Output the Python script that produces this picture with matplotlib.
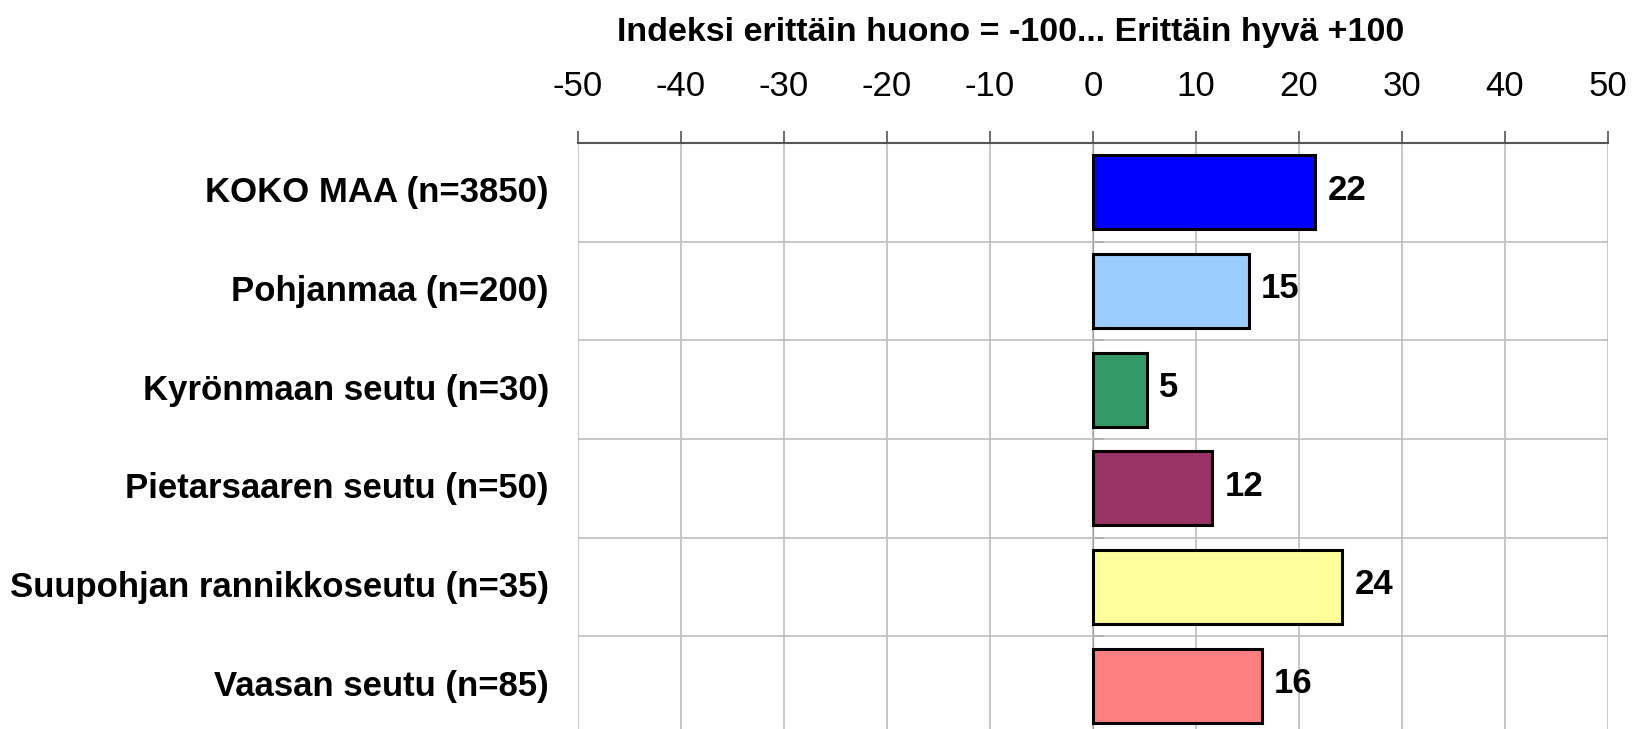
import numpy as np
import matplotlib as mpl
mpl.use('agg')
from matplotlib import pyplot as plt
from matplotlib.transforms import ScaledTranslation

plt.rcParams['font.family'] = ['Liberation Sans', 'DejaVu Sans']
plt.rcParams['axes.unicode_minus'] = False

categories = ['KOKO MAA (n=3850)', 'Pohjanmaa (n=200)', 'Kyrönmaan seutu (n=30)',
              'Pietarsaaren seutu (n=50)', 'Suupohjan rannikkoseutu (n=35)', 'Vaasan seutu (n=85)']
values = [21.6, 15.1, 5.2, 11.6, 24.2, 16.4]
colors = ['#0000FF', '#99CCFF', '#339966', '#993366', '#FFFF99', '#FF8080']
xticks = list(range(-50, 51, 10))
title = 'Indeksi erittäin huono = -100... Erittäin hyvä +100'

W, H = 1636, 729
fig = plt.figure(figsize=(W / 100, H / 100), dpi=100)
left, right, top, bottom = 578, 1608, 143, 735
ax = fig.add_axes([left / W, 1 - bottom / H, (right - left) / W, (bottom - top) / H])

y = np.arange(len(categories))
ax.barh(y, values, height=0.75, color=colors, edgecolor='black', linewidth=2.2, zorder=3)
for yi, v in zip(y, values):
    ax.annotate('%d' % round(v), (v, yi), xytext=(12, 2), textcoords='offset pixels',
                ha='left', va='center', fontsize=25, fontweight='bold', zorder=4)

ax.set_xlim(-50, 50)
ax.set_ylim(len(categories) - 0.5, -0.5)
ax.xaxis.tick_top()
ax.set_xticks(xticks)
ax.tick_params(axis='x', labelsize=25, length=8.6, width=1.2, color='#555555', pad=20)
ax.set_yticks(y, categories)
ax.tick_params(axis='y', which='major', length=0, pad=21, labelsize=25)
up = ScaledTranslation(0, 3 / 100, fig.dpi_scale_trans)
for lab in ax.get_yticklabels():
    lab.set_fontweight('bold')
    lab.set_transform(lab.get_transform() + up)

bounds = np.arange(-0.5, len(categories), 1.0)
ax.set_yticks(bounds, minor=True)
ax.tick_params(axis='y', which='minor', length=0)
ax.grid(True, axis='x', color='#BEBEBE', linewidth=1.2, zorder=0)
ax.grid(True, axis='y', which='minor', color='#BEBEBE', linewidth=1.2, zorder=0)

for s in ['left', 'right', 'bottom']:
    ax.spines[s].set_visible(False)
ax.spines['top'].set_color('#555555')
ax.spines['top'].set_linewidth(1.5)

# zero axis with category boundary ticks
sec = ax.secondary_yaxis(0.5)
sec.set_yticks(bounds, [''] * len(bounds))
sec.tick_params(axis='y', length=8, width=1.2, color='#555555')
sec.spines['left'].set_color('black')
sec.spines['left'].set_linewidth(1.5)
sec.spines['left'].set_zorder(5)

fig.text(1011 / W, 1 - 32 / H, title, ha='center', va='center', fontsize=24.5, fontweight='bold')

fig.savefig('out.png', dpi=100)
